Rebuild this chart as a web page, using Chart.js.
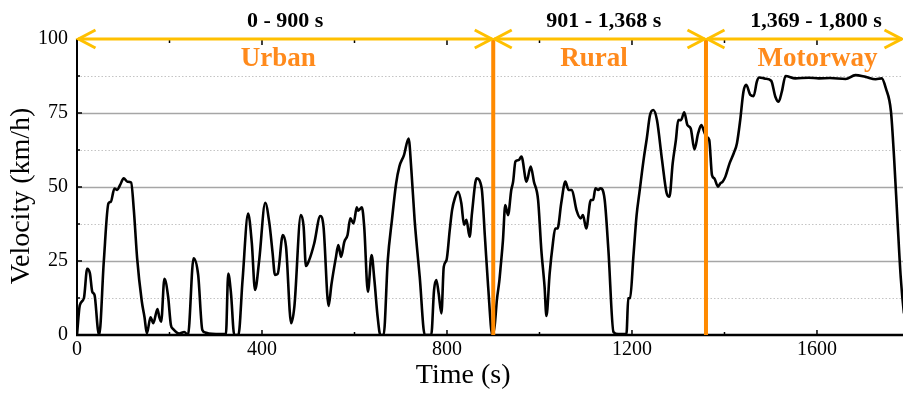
<!DOCTYPE html>
<html><head><meta charset="utf-8">
<script src="https://cdn.jsdelivr.net/npm/chart.js@4.4.0/dist/chart.umd.min.js"></script>
<style>html,body{margin:0;padding:0;background:#fff;overflow:hidden}</style>
</head><body>
<canvas id="c" width="903" height="393"></canvas>
<script>
// ---- data ----
const timeSeconds = [
  0,6,15,22,28,33,38,45,48,58,68,73,81,87,93,101,109,117,123,130,140,146,151,159,165,174,178,182,189,197,203,208,221,232,240,252,262,271,278,285,322,
  327,333,340,349,358,370,378,385,394,407,416,423,428,434,445,452,463,470,484,490,495,502,513,526,533,544,550,560,565,571,578,585,591,598,605,608,616,621,
  629,637,643,650,656,663,672,681,690,697,707,717,723,730,741,752,766,772,777,782,788,793,799,806,811,817,824,831,837,842,849,854,864,875,882,889,898,
  903,908,913,916,921,926,932,939,943,948,955,961,972,981,988,997,1004,1011,1015,1022,1029,1034,1039,1047,1056,1063,1070,1080,1089,1094,1101,1111,1116,
  1121,1127,1132,1141,1149,1160,1170,1188,1192,1196,1203,1210,1216,1225,1232,1239,1246,1254,1265,1275,1281,1288,1295,1300,1306,1313,1320,1327,1335,1343,
  1350,1356,1361,1367,1373,1378,1386,1391,1396,1402,1411,1420,1427,1434,1441,1447,1456,1463,1470,1475,1488,1501,1510,1517,1524,1532,1553,1582,1604,1628,
  1662,1683,1705,1727,1740,1749,1760,1767,1774,1781,1788,1795
];
const velocityKmh = [
  0,10,12.5,22.4,20.8,14.6,13.5,2,0,25,44.5,45,49.5,49,50.6,52.9,51.8,51.5,42,26,11.5,6,0.5,6,4,8.8,6,4.5,19,13,3.4,2,0.5,1,0,25.9,20.3,1.7,0.8,0.5,0.3,
  20.8,14,0,0,18.6,41,31,15.2,25.3,44.7,37.7,27.6,20.3,20.7,33.8,29.8,4,9.6,40.5,36.6,23.3,25.3,31,40.2,36.6,9.8,16.9,26.4,30.4,26.4,31.5,33.8,39.4,37.7,43.1,42,43.1,36.6,
  14.6,27,18.6,6.2,0,0,25.3,38.9,51.2,56.9,60.8,66.4,55.7,38.9,19.7,0,0,15.2,18.6,14,7.3,23,25.3,35.5,42.2,46.2,48.4,44.5,37.2,38.9,33.2,41.1,52.9,49.6,33.2,16.3,0,
  3,12,18,23,32,43.9,40.5,49,51.8,58.6,59.1,60.3,51.8,56.9,51.8,45.6,28.7,16.3,6.4,20.8,31,36,36,44.5,51.8,49,49,42.2,39.4,40.5,36,45.6,45.6,
  49.6,49,49.6,45.6,28.7,1,0.3,0.3,12.4,12.5,26.4,40.5,48,59.1,66.4,74.3,76,72.6,59.1,47.9,46.7,58,65.9,72.6,72.6,75.2,70.9,69.8,62.7,68.1,
  70.9,68.7,67,65.9,54,52.9,50.1,51.2,51.8,53.5,58,61.4,64.8,72.6,82.2,84.5,81.1,80.7,85.6,87,86.6,85.9,80.5,78.8,82.2,87.5,86.7,86.9,86.7,86.8,
  86.5,87.8,87.2,86.4,86.7,83.3,75.5,59.1,38.9,19.7,7.3,0
];
const xMinorStep = 200;         // minor ticks every 200 s
const xLabelStep = 400;         // labelled ticks every 400 s
const yMinorStep = 12.5;        // minor ticks / dotted grid every 12.5 km/h
const yLabelStep = 25;          // labelled ticks / solid grid every 25 km/h
const xAxisMin = 0, xAxisMax = 1786;
const yAxisMin = 0, yAxisMax = 100;
const phaseBoundaries = [0, 900, 1360, 1786];
const phaseNames = ['Urban', 'Rural', 'Motorway'];
const phaseRanges = ['0 - 900 s', '901 - 1,368 s', '1,369 - 1,800 s'];
const phaseRangeLabelAt = [450, 1139, 1598];
const phaseNameLabelAt = [435, 1118, 1601];
const xTitle = 'Time (s)';
const yTitle = 'Velocity (km/h)';

const FONT = '"Liberation Serif", "Times New Roman", serif';
const ORANGE_LINE = '#FF8A00';
const ORANGE_TEXT = '#FF8A1C';
const ARROW = '#FFC000';

const overlay = {
  id: 'overlay',
  beforeDatasetsDraw(chart) {
    const {ctx, chartArea: a, scales: {y}} = chart;
    ctx.save();
    for (let v = yAxisMin + yMinorStep; v < yAxisMax; v += yMinorStep) {
      const py = Math.round(y.getPixelForValue(v)) + 0.5;
      ctx.beginPath();
      if (v % yLabelStep === 0) {
        ctx.strokeStyle = '#a6a6a6'; ctx.lineWidth = 1.5; ctx.setLineDash([]);
      } else {
        ctx.strokeStyle = '#c4c4c4'; ctx.lineWidth = 1; ctx.setLineDash([1.5, 2]);
      }
      ctx.moveTo(a.left, py); ctx.lineTo(a.right, py); ctx.stroke();
    }
    ctx.restore();
  },
  afterDatasetsDraw(chart) {
    const {ctx, chartArea: a, scales: {x, y}} = chart;
    ctx.save();
    ctx.setLineDash([]);
    // axes
    ctx.strokeStyle = '#000';
    ctx.lineWidth = 2;
    ctx.beginPath(); ctx.moveTo(a.left, a.top); ctx.lineTo(a.left, a.bottom + 1); ctx.stroke();
    ctx.lineWidth = 2.5;
    ctx.beginPath(); ctx.moveTo(a.left - 1, a.bottom); ctx.lineTo(a.right, a.bottom); ctx.stroke();
    // tick marks (inward)
    ctx.lineWidth = 1.5;
    for (let v = xAxisMin; v <= xAxisMax; v += xMinorStep) {
      const px = x.getPixelForValue(v);
      const len = v % xLabelStep === 0 ? 5 : 3;
      ctx.beginPath(); ctx.moveTo(px, a.bottom); ctx.lineTo(px, a.bottom - len); ctx.stroke();
      ctx.beginPath(); ctx.moveTo(px, a.top); ctx.lineTo(px, a.top + len + 1); ctx.stroke();
    }
    for (let v = yAxisMin; v <= yAxisMax; v += yMinorStep) {
      const py = y.getPixelForValue(v);
      const len = v % yLabelStep === 0 ? 5 : 3;
      ctx.beginPath(); ctx.moveTo(a.left, py); ctx.lineTo(a.left + len, py); ctx.stroke();
    }
    // phase boundary lines
    ctx.strokeStyle = ORANGE_LINE;
    ctx.lineWidth = 4;
    phaseBoundaries.slice(1, -1).forEach(b => {
      const px = x.getPixelForValue(b);
      ctx.beginPath(); ctx.moveTo(px, y.getPixelForValue(yAxisMax)); ctx.lineTo(px, a.bottom); ctx.stroke();
    });
    // arrows
    const ay = y.getPixelForValue(yAxisMax);
    ctx.strokeStyle = ARROW;
    ctx.lineWidth = 3;
    ctx.lineCap = 'butt';
    ctx.lineJoin = 'miter';
    const head = (tip, dir) => {
      ctx.beginPath();
      ctx.moveTo(tip - dir * 17, ay - 9);
      ctx.lineTo(tip, ay);
      ctx.lineTo(tip - dir * 17, ay + 9);
      ctx.stroke();
    };
    for (let i = 0; i < phaseNames.length; i++) {
      const x0 = x.getPixelForValue(phaseBoundaries[i]);
      const x1 = Math.min(x.getPixelForValue(phaseBoundaries[i + 1]), a.right) - 1;
      ctx.beginPath(); ctx.moveTo(x0 + 1, ay); ctx.lineTo(x1, ay); ctx.stroke();
      head(x0 + 1.5, -1);
      head(x1 - 0.5, 1);
    }
    // labels
    ctx.textAlign = 'center';
    ctx.textBaseline = 'middle';
    for (let i = 0; i < phaseNames.length; i++) {
      ctx.fillStyle = '#000';
      ctx.font = 'bold 22px ' + FONT;
      ctx.fillText(phaseRanges[i], x.getPixelForValue(phaseRangeLabelAt[i]), 21);
      ctx.fillStyle = ORANGE_TEXT;
      ctx.font = 'bold 27px ' + FONT;
      ctx.fillText(phaseNames[i], x.getPixelForValue(phaseNameLabelAt[i]), 59);
    }
    // axis titles
    ctx.fillStyle = '#000';
    ctx.font = '28px ' + FONT;
    ctx.fillText(xTitle, x.getPixelForValue(835), 376);
    ctx.translate(22, y.getPixelForValue(47));
    ctx.rotate(-Math.PI / 2);
    ctx.fillText(yTitle, 0, 0);
    ctx.restore();
  }
};

new Chart(document.getElementById('c'), {
  type: 'line',
  data: {
    datasets: [{
      data: timeSeconds.map((t, i) => ({x: t, y: velocityKmh[i]})),
      borderColor: '#000',
      borderWidth: 2.6,
      pointRadius: 0,
      fill: false,
      cubicInterpolationMode: 'monotone'
    }]
  },
  options: {
    responsive: false,
    devicePixelRatio: 1,
    animation: false,
    layout: {padding: {top: 39, left: 0, right: 0, bottom: 0}},
    plugins: {legend: {display: false}, tooltip: {enabled: false}},
    scales: {
      x: {
        type: 'linear', min: xAxisMin, max: xAxisMax,
        grid: {display: false, drawTicks: false}, border: {display: false},
        ticks: {
          stepSize: xLabelStep, includeBounds: false, autoSkip: false, maxRotation: 0,
          padding: 3, color: '#000', font: {family: FONT, size: 20},
          callback: v => String(v)
        },
        afterFit: s => { s.height = 58; }
      },
      y: {
        min: yAxisMin, max: yAxisMax,
        grid: {display: false, drawTicks: false}, border: {display: false},
        ticks: {
          stepSize: yLabelStep, autoSkip: false, padding: 9, color: '#000',
          font: {family: FONT, size: 20},
          callback: v => String(v)
        },
        afterFit: s => { s.width = 77; }
      }
    }
  },
  plugins: [overlay]
});
</script>
</body></html>
